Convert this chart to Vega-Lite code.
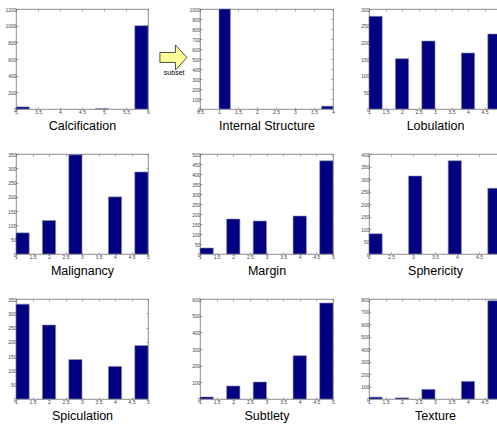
{
  "$schema": "https://vega.github.io/schema/vega-lite/v6.json",
  "background": "white",
  "padding": {"left": 4, "top": 6, "right": 5, "bottom": 5},
  "datasets": {
    "hist": [
      {"var": "Calcification", "x0": 3.0, "x1": 3.3, "count": 25},
      {"var": "Calcification", "x0": 4.8, "x1": 5.1, "count": 4},
      {"var": "Calcification", "x0": 5.7, "x1": 6.0, "count": 1000},
      {"var": "Internal Structure", "x0": 1.0, "x1": 1.3, "count": 1000},
      {"var": "Internal Structure", "x0": 3.7, "x1": 4.0, "count": 28},
      {"var": "Lobulation", "x0": 1.0, "x1": 1.4, "count": 278},
      {"var": "Lobulation", "x0": 1.8, "x1": 2.2, "count": 151},
      {"var": "Lobulation", "x0": 2.6, "x1": 3.0, "count": 204},
      {"var": "Lobulation", "x0": 3.8, "x1": 4.2, "count": 168},
      {"var": "Lobulation", "x0": 4.6, "x1": 5.0, "count": 225},
      {"var": "Malignancy", "x0": 1.0, "x1": 1.4, "count": 74},
      {"var": "Malignancy", "x0": 1.8, "x1": 2.2, "count": 117},
      {"var": "Malignancy", "x0": 2.6, "x1": 3.0, "count": 347},
      {"var": "Malignancy", "x0": 3.8, "x1": 4.2, "count": 200},
      {"var": "Malignancy", "x0": 4.6, "x1": 5.0, "count": 287},
      {"var": "Margin", "x0": 1.0, "x1": 1.4, "count": 30},
      {"var": "Margin", "x0": 1.8, "x1": 2.2, "count": 175},
      {"var": "Margin", "x0": 2.6, "x1": 3.0, "count": 165},
      {"var": "Margin", "x0": 3.8, "x1": 4.2, "count": 190},
      {"var": "Margin", "x0": 4.6, "x1": 5.0, "count": 466},
      {"var": "Sphericity", "x0": 2.0, "x1": 2.3, "count": 81},
      {"var": "Sphericity", "x0": 2.9, "x1": 3.2, "count": 312},
      {"var": "Sphericity", "x0": 3.8, "x1": 4.1, "count": 373},
      {"var": "Sphericity", "x0": 4.7, "x1": 5.0, "count": 263},
      {"var": "Spiculation", "x0": 1.0, "x1": 1.4, "count": 332},
      {"var": "Spiculation", "x0": 1.8, "x1": 2.2, "count": 259},
      {"var": "Spiculation", "x0": 2.6, "x1": 3.0, "count": 138},
      {"var": "Spiculation", "x0": 3.8, "x1": 4.2, "count": 114},
      {"var": "Spiculation", "x0": 4.6, "x1": 5.0, "count": 187},
      {"var": "Subtlety", "x0": 1.0, "x1": 1.4, "count": 12},
      {"var": "Subtlety", "x0": 1.8, "x1": 2.2, "count": 78},
      {"var": "Subtlety", "x0": 2.6, "x1": 3.0, "count": 102},
      {"var": "Subtlety", "x0": 3.8, "x1": 4.2, "count": 260},
      {"var": "Subtlety", "x0": 4.6, "x1": 5.0, "count": 576},
      {"var": "Texture", "x0": 1.0, "x1": 1.4, "count": 15},
      {"var": "Texture", "x0": 1.8, "x1": 2.2, "count": 9},
      {"var": "Texture", "x0": 2.6, "x1": 3.0, "count": 77},
      {"var": "Texture", "x0": 3.8, "x1": 4.2, "count": 141},
      {"var": "Texture", "x0": 4.6, "x1": 5.0, "count": 786}
    ]
  },
  "spacing": 7,
  "hconcat": [
    {
      "bounds": "flush",
      "spacing": 45,
      "vconcat": [
        {
          "width": 132, "height": 100,
          "data": {"name": "hist"},
          "transform": [{"filter": "datum.var == 'Calcification'"}],
          "resolve": {"axis": {"x": "independent", "y": "independent"}},
          "layer": [
            {
              "mark": {"type": "rect", "color": "#000080", "stroke": "#8c8ca8", "strokeWidth": 0.6},
              "encoding": {
                "x": {"field": "x0", "type": "quantitative", "scale": {"domain": [3, 6], "nice": false, "zero": false}, "axis": {"values": [3, 3.5, 4, 4.5, 5, 5.5, 6], "format": "~f", "title": "Calcification"}},
                "x2": {"field": "x1"},
                "y": {"field": "count", "type": "quantitative", "scale": {"domain": [0, 1200], "nice": false}, "axis": {"values": [0, 200, 400, 600, 800, 1000, 1200], "format": "~f", "title": null}},
                "y2": {"datum": 0}
              }
            },
            {
              "mark": {"type": "rect", "opacity": 0},
              "encoding": {
                "x": {"field": "x0", "type": "quantitative", "axis": {"orient": "top", "values": [3, 3.5, 4, 4.5, 5, 5.5, 6], "labels": false, "title": null}},
                "x2": {"field": "x1"},
                "y": {"field": "count", "type": "quantitative", "axis": {"orient": "right", "values": [0, 200, 400, 600, 800, 1000, 1200], "labels": false, "title": null}},
                "y2": {"datum": 0}
              }
            }
          ]
        },
        {
          "width": 132, "height": 100,
          "data": {"name": "hist"},
          "transform": [{"filter": "datum.var == 'Malignancy'"}],
          "resolve": {"axis": {"x": "independent", "y": "independent"}},
          "layer": [
            {
              "mark": {"type": "rect", "color": "#000080", "stroke": "#8c8ca8", "strokeWidth": 0.6},
              "encoding": {
                "x": {"field": "x0", "type": "quantitative", "scale": {"domain": [1, 5], "nice": false, "zero": false}, "axis": {"values": [1, 1.5, 2, 2.5, 3, 3.5, 4, 4.5, 5], "format": "~f", "title": "Malignancy"}},
                "x2": {"field": "x1"},
                "y": {"field": "count", "type": "quantitative", "scale": {"domain": [0, 350], "nice": false}, "axis": {"values": [0, 50, 100, 150, 200, 250, 300, 350], "format": "~f", "title": null}},
                "y2": {"datum": 0}
              }
            },
            {
              "mark": {"type": "rect", "opacity": 0},
              "encoding": {
                "x": {"field": "x0", "type": "quantitative", "axis": {"orient": "top", "values": [1, 1.5, 2, 2.5, 3, 3.5, 4, 4.5, 5], "labels": false, "title": null}},
                "x2": {"field": "x1"},
                "y": {"field": "count", "type": "quantitative", "axis": {"orient": "right", "values": [0, 50, 100, 150, 200, 250, 300, 350], "labels": false, "title": null}},
                "y2": {"datum": 0}
              }
            }
          ]
        },
        {
          "width": 132, "height": 100,
          "data": {"name": "hist"},
          "transform": [{"filter": "datum.var == 'Spiculation'"}],
          "resolve": {"axis": {"x": "independent", "y": "independent"}},
          "layer": [
            {
              "mark": {"type": "rect", "color": "#000080", "stroke": "#8c8ca8", "strokeWidth": 0.6},
              "encoding": {
                "x": {"field": "x0", "type": "quantitative", "scale": {"domain": [1, 5], "nice": false, "zero": false}, "axis": {"values": [1, 1.5, 2, 2.5, 3, 3.5, 4, 4.5, 5], "format": "~f", "title": "Spiculation"}},
                "x2": {"field": "x1"},
                "y": {"field": "count", "type": "quantitative", "scale": {"domain": [0, 350], "nice": false}, "axis": {"values": [0, 50, 100, 150, 200, 250, 300, 350], "format": "~f", "title": null}},
                "y2": {"datum": 0}
              }
            },
            {
              "mark": {"type": "rect", "opacity": 0},
              "encoding": {
                "x": {"field": "x0", "type": "quantitative", "axis": {"orient": "top", "values": [1, 1.5, 2, 2.5, 3, 3.5, 4, 4.5, 5], "labels": false, "title": null}},
                "x2": {"field": "x1"},
                "y": {"field": "count", "type": "quantitative", "axis": {"orient": "right", "values": [0, 50, 100, 150, 200, 250, 300, 350], "labels": false, "title": null}},
                "y2": {"datum": 0}
              }
            }
          ]
        }
      ]
    },
    {
      "spacing": 25,
      "hconcat": [
        {
          "bounds": "flush",
          "spacing": 45,
          "vconcat": [
            {
              "width": 133, "height": 100,
              "resolve": {"axis": {"x": "independent", "y": "independent"}},
              "layer": [
                {
                  "data": {"name": "hist"},
                  "transform": [{"filter": "datum.var == 'Internal Structure'"}],
                  "mark": {"type": "rect", "color": "#000080", "stroke": "#8c8ca8", "strokeWidth": 0.6},
                  "encoding": {
                    "x": {"field": "x0", "type": "quantitative", "scale": {"domain": [0.5, 4], "nice": false, "zero": false}, "axis": {"values": [0.5, 1, 1.5, 2, 2.5, 3, 3.5, 4], "format": "~f", "title": "Internal Structure"}},
                    "x2": {"field": "x1"},
                    "y": {"field": "count", "type": "quantitative", "scale": {"domain": [0, 1000], "nice": false}, "axis": {"values": [0, 100, 200, 300, 400, 500, 600, 700, 800, 900, 1000], "format": "~f", "title": null}},
                    "y2": {"datum": 0}
                  }
                },
                {
                  "data": {"name": "hist"},
                  "transform": [{"filter": "datum.var == 'Internal Structure'"}],
                  "mark": {"type": "rect", "opacity": 0},
                  "encoding": {
                    "x": {"field": "x0", "type": "quantitative", "axis": {"orient": "top", "values": [0.5, 1, 1.5, 2, 2.5, 3, 3.5, 4], "labels": false, "title": null}},
                    "x2": {"field": "x1"},
                    "y": {"field": "count", "type": "quantitative", "axis": {"orient": "right", "values": [0, 100, 200, 300, 400, 500, 600, 700, 800, 900, 1000], "labels": false, "title": null}},
                    "y2": {"datum": 0}
                  }
                },
                {
                  "data": {"values": [{"note": "subset"}]},
                  "mark": {"type": "point", "shape": "M-1,-0.37L0.15,-0.37L0.15,-0.93L1,0L0.15,0.93L0.15,0.37L-1,0.37Z", "size": 729, "filled": true, "fill": "#ffff99", "stroke": "#222222", "strokeWidth": 0.8, "opacity": 1},
                  "encoding": {
                    "x": {"datum": -0.2, "type": "quantitative", "axis": null},
                    "y": {"datum": 515, "type": "quantitative", "axis": null}
                  }
                },
                {
                  "data": {"values": [{"note": "subset"}]},
                  "mark": {"type": "text", "font": "Liberation Sans", "fontSize": 7, "color": "#000000", "baseline": "middle", "align": "center"},
                  "encoding": {
                    "x": {"datum": -0.18, "type": "quantitative", "axis": null},
                    "y": {"datum": 360, "type": "quantitative", "axis": null},
                    "text": {"field": "note"}
                  }
                }
              ]
            },
            {
              "width": 133, "height": 100,
              "data": {"name": "hist"},
              "transform": [{"filter": "datum.var == 'Margin'"}],
              "resolve": {"axis": {"x": "independent", "y": "independent"}},
              "layer": [
                {
                  "mark": {"type": "rect", "color": "#000080", "stroke": "#8c8ca8", "strokeWidth": 0.6},
                  "encoding": {
                    "x": {"field": "x0", "type": "quantitative", "scale": {"domain": [1, 5], "nice": false, "zero": false}, "axis": {"values": [1, 1.5, 2, 2.5, 3, 3.5, 4, 4.5, 5], "format": "~f", "title": "Margin"}},
                    "x2": {"field": "x1"},
                    "y": {"field": "count", "type": "quantitative", "scale": {"domain": [0, 500], "nice": false}, "axis": {"values": [0, 50, 100, 150, 200, 250, 300, 350, 400, 450, 500], "format": "~f", "title": null}},
                    "y2": {"datum": 0}
                  }
                },
                {
                  "mark": {"type": "rect", "opacity": 0},
                  "encoding": {
                    "x": {"field": "x0", "type": "quantitative", "axis": {"orient": "top", "values": [1, 1.5, 2, 2.5, 3, 3.5, 4, 4.5, 5], "labels": false, "title": null}},
                    "x2": {"field": "x1"},
                    "y": {"field": "count", "type": "quantitative", "axis": {"orient": "right", "values": [0, 50, 100, 150, 200, 250, 300, 350, 400, 450, 500], "labels": false, "title": null}},
                    "y2": {"datum": 0}
                  }
                }
              ]
            },
            {
              "width": 133, "height": 100,
              "data": {"name": "hist"},
              "transform": [{"filter": "datum.var == 'Subtlety'"}],
              "resolve": {"axis": {"x": "independent", "y": "independent"}},
              "layer": [
                {
                  "mark": {"type": "rect", "color": "#000080", "stroke": "#8c8ca8", "strokeWidth": 0.6},
                  "encoding": {
                    "x": {"field": "x0", "type": "quantitative", "scale": {"domain": [1, 5], "nice": false, "zero": false}, "axis": {"values": [1, 1.5, 2, 2.5, 3, 3.5, 4, 4.5, 5], "format": "~f", "title": "Subtlety"}},
                    "x2": {"field": "x1"},
                    "y": {"field": "count", "type": "quantitative", "scale": {"domain": [0, 600], "nice": false}, "axis": {"values": [0, 100, 200, 300, 400, 500, 600], "format": "~f", "title": null}},
                    "y2": {"datum": 0}
                  }
                },
                {
                  "mark": {"type": "rect", "opacity": 0},
                  "encoding": {
                    "x": {"field": "x0", "type": "quantitative", "axis": {"orient": "top", "values": [1, 1.5, 2, 2.5, 3, 3.5, 4, 4.5, 5], "labels": false, "title": null}},
                    "x2": {"field": "x1"},
                    "y": {"field": "count", "type": "quantitative", "axis": {"orient": "right", "values": [0, 100, 200, 300, 400, 500, 600], "labels": false, "title": null}},
                    "y2": {"datum": 0}
                  }
                }
              ]
            }
          ]
        },
        {
          "bounds": "flush",
          "spacing": 45,
          "vconcat": [
            {
              "width": 132, "height": 100,
              "data": {"name": "hist"},
              "transform": [{"filter": "datum.var == 'Lobulation'"}],
              "resolve": {"axis": {"x": "independent", "y": "independent"}},
              "layer": [
                {
                  "mark": {"type": "rect", "color": "#000080", "stroke": "#8c8ca8", "strokeWidth": 0.6},
                  "encoding": {
                    "x": {"field": "x0", "type": "quantitative", "scale": {"domain": [1, 5], "nice": false, "zero": false}, "axis": {"values": [1, 1.5, 2, 2.5, 3, 3.5, 4, 4.5, 5], "format": "~f", "title": "Lobulation"}},
                    "x2": {"field": "x1"},
                    "y": {"field": "count", "type": "quantitative", "scale": {"domain": [0, 300], "nice": false}, "axis": {"values": [0, 50, 100, 150, 200, 250, 300], "format": "~f", "title": null}},
                    "y2": {"datum": 0}
                  }
                },
                {
                  "mark": {"type": "rect", "opacity": 0},
                  "encoding": {
                    "x": {"field": "x0", "type": "quantitative", "axis": {"orient": "top", "values": [1, 1.5, 2, 2.5, 3, 3.5, 4, 4.5, 5], "labels": false, "title": null}},
                    "x2": {"field": "x1"},
                    "y": {"field": "count", "type": "quantitative", "axis": {"orient": "right", "values": [0, 50, 100, 150, 200, 250, 300], "labels": false, "title": null}},
                    "y2": {"datum": 0}
                  }
                }
              ]
            },
            {
              "width": 132, "height": 100,
              "data": {"name": "hist"},
              "transform": [{"filter": "datum.var == 'Sphericity'"}],
              "resolve": {"axis": {"x": "independent", "y": "independent"}},
              "layer": [
                {
                  "mark": {"type": "rect", "color": "#000080", "stroke": "#8c8ca8", "strokeWidth": 0.6},
                  "encoding": {
                    "x": {"field": "x0", "type": "quantitative", "scale": {"domain": [2, 5], "nice": false, "zero": false}, "axis": {"values": [2, 2.5, 3, 3.5, 4, 4.5, 5], "format": "~f", "title": "Sphericity"}},
                    "x2": {"field": "x1"},
                    "y": {"field": "count", "type": "quantitative", "scale": {"domain": [0, 400], "nice": false}, "axis": {"values": [0, 50, 100, 150, 200, 250, 300, 350, 400], "format": "~f", "title": null}},
                    "y2": {"datum": 0}
                  }
                },
                {
                  "mark": {"type": "rect", "opacity": 0},
                  "encoding": {
                    "x": {"field": "x0", "type": "quantitative", "axis": {"orient": "top", "values": [2, 2.5, 3, 3.5, 4, 4.5, 5], "labels": false, "title": null}},
                    "x2": {"field": "x1"},
                    "y": {"field": "count", "type": "quantitative", "axis": {"orient": "right", "values": [0, 50, 100, 150, 200, 250, 300, 350, 400], "labels": false, "title": null}},
                    "y2": {"datum": 0}
                  }
                }
              ]
            },
            {
              "width": 132, "height": 100,
              "data": {"name": "hist"},
              "transform": [{"filter": "datum.var == 'Texture'"}],
              "resolve": {"axis": {"x": "independent", "y": "independent"}},
              "layer": [
                {
                  "mark": {"type": "rect", "color": "#000080", "stroke": "#8c8ca8", "strokeWidth": 0.6},
                  "encoding": {
                    "x": {"field": "x0", "type": "quantitative", "scale": {"domain": [1, 5], "nice": false, "zero": false}, "axis": {"values": [1, 1.5, 2, 2.5, 3, 3.5, 4, 4.5, 5], "format": "~f", "title": "Texture"}},
                    "x2": {"field": "x1"},
                    "y": {"field": "count", "type": "quantitative", "scale": {"domain": [0, 800], "nice": false}, "axis": {"values": [0, 100, 200, 300, 400, 500, 600, 700, 800], "format": "~f", "title": null}},
                    "y2": {"datum": 0}
                  }
                },
                {
                  "mark": {"type": "rect", "opacity": 0},
                  "encoding": {
                    "x": {"field": "x0", "type": "quantitative", "axis": {"orient": "top", "values": [1, 1.5, 2, 2.5, 3, 3.5, 4, 4.5, 5], "labels": false, "title": null}},
                    "x2": {"field": "x1"},
                    "y": {"field": "count", "type": "quantitative", "axis": {"orient": "right", "values": [0, 100, 200, 300, 400, 500, 600, 700, 800], "labels": false, "title": null}},
                    "y2": {"datum": 0}
                  }
                }
              ]
            }
          ]
        }
      ]
    }
  ],
  "config": {
    "view": {"stroke": "#707070", "strokeWidth": 0.8},
    "axis": {
      "grid": false,
      "domain": false,
      "tickColor": "#707070",
      "tickSize": -2,
      "tickWidth": 0.6,
      "labelFontSize": 5,
      "labelColor": "#444444",
      "labelFont": "Liberation Sans",
      "labelPadding": 2,
      "labelFlush": false,
      "labelOverlap": false,
      "labelBound": false,
      "titleFont": "Liberation Sans",
      "titleFontSize": 12.5,
      "titleFontWeight": "normal",
      "titleColor": "#000000",
      "titlePadding": 5
    }
  }
}
